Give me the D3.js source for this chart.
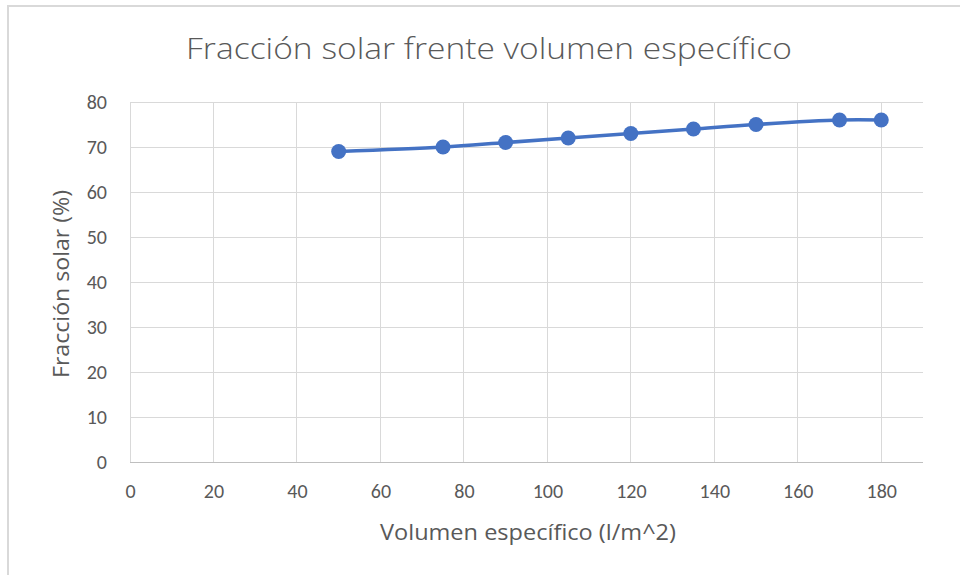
<!DOCTYPE html>
<html>
<head>
<meta charset="utf-8">
<script src="https://cdn.jsdelivr.net/npm/d3@7"></script>
<style>
  html, body { margin: 0; padding: 0; background: #fff; }
  svg { display: block; }
  text { font-family: Carlito, Calibri, Lato, "Open Sans", sans-serif; fill: #595959; }
</style>
</head>
<body>
<svg id="chart" width="960" height="575"></svg>
<script>
// Specific storage volume (l/m^2) and resulting solar fraction (%)
const volumen = [50, 75, 90, 105, 120, 135, 150, 170, 180];
const fraccion = [69, 70, 71, 72, 73, 74, 75, 76, 76];
const xTicks = [0, 20, 40, 60, 80, 100, 120, 140, 160, 180];
const yTicks = [0, 10, 20, 30, 40, 50, 60, 70, 80];

const titulo = "Fracción solar frente volumen específico";
const tituloX = "Volumen específico (l/m^2)";
const tituloY = "Fracción solar (%)";

const fuente = 'Carlito, Calibri, Lato, "Open Sans", sans-serif';
const svg = d3.select("#chart");
const W = 960, H = 575;
const plot = { left: 130, right: 923, top: 102, bottom: 462 };

// chart frame
svg.append("rect")
  .attr("x", 8).attr("y", 6)
  .attr("width", W).attr("height", H)
  .attr("fill", "#fff")
  .attr("stroke", "#d9d9d9").attr("stroke-width", 2);

const x = d3.scaleLinear().domain([0, 190]).range([plot.left, plot.right]);
const y = d3.scaleLinear().domain([0, 80]).range([plot.bottom, plot.top]);

// vertical gridlines
svg.append("g").selectAll("line").data(xTicks).join("line")
  .attr("x1", d => x(d)).attr("x2", d => x(d))
  .attr("y1", plot.top).attr("y2", plot.bottom)
  .attr("stroke", "#d9d9d9").attr("stroke-width", 1)
  .attr("shape-rendering", "crispEdges");

// horizontal gridlines
svg.append("g").selectAll("line").data(yTicks).join("line")
  .attr("x1", plot.left).attr("x2", plot.right)
  .attr("y1", d => y(d)).attr("y2", d => y(d))
  .attr("stroke", d => d === 0 ? "#bfbfbf" : "#d9d9d9").attr("stroke-width", 1)
  .attr("shape-rendering", "crispEdges");

// x tick labels
const xAxis = d3.axisBottom(x).tickValues(xTicks).tickSize(0).tickPadding(22);
const gx = svg.append("g").attr("transform", `translate(0,${plot.bottom})`).call(xAxis);
gx.select(".domain").remove();
gx.selectAll("text").attr("font-size", 20).attr("fill", "#595959")
  .style("font-family", fuente);

// y tick labels
const yAxis = d3.axisLeft(y).tickValues(yTicks).tickSize(0).tickPadding(23);
const gy = svg.append("g").attr("transform", `translate(${plot.left},0)`).call(yAxis);
gy.select(".domain").remove();
gy.selectAll("text").attr("font-size", 20).attr("fill", "#595959")
  .style("font-family", fuente);

// title
svg.append("text")
  .attr("x", 489).attr("y", 59)
  .attr("text-anchor", "middle")
  .attr("font-size", 30).attr("font-weight", 300)
  .style("font-family", '"Open Sans", Lato, sans-serif')
  .attr("textLength", 606).attr("lengthAdjust", "spacingAndGlyphs")
  .text(titulo);

// axis titles
svg.append("text")
  .attr("x", 528).attr("y", 540)
  .attr("text-anchor", "middle")
  .attr("font-size", 21).attr("font-weight", 400)
  .style("font-family", '"Open Sans", Lato, sans-serif')
  .attr("textLength", 296).attr("lengthAdjust", "spacingAndGlyphs")
  .text(tituloX);

svg.append("text")
  .attr("transform", "translate(69,284) rotate(-90)")
  .attr("text-anchor", "middle")
  .attr("font-size", 21).attr("font-weight", 400)
  .style("font-family", '"Open Sans", Lato, sans-serif')
  .attr("textLength", 188).attr("lengthAdjust", "spacingAndGlyphs")
  .text(tituloY);

// series
const datos = volumen.map((v, i) => ({ v, f: fraccion[i] }));
const linea = d3.line()
  .x(d => x(d.v)).y(d => y(d.f))
  .curve(d3.curveCatmullRom.alpha(0.5));

svg.append("path")
  .datum(datos)
  .attr("d", linea)
  .attr("fill", "none")
  .attr("stroke", "#4472c4")
  .attr("stroke-width", 3.6)
  .attr("stroke-linecap", "round");

svg.append("g").selectAll("circle").data(datos).join("circle")
  .attr("cx", d => x(d.v)).attr("cy", d => y(d.f))
  .attr("r", 7.5)
  .attr("fill", "#4472c4");
</script>
</body>
</html>
